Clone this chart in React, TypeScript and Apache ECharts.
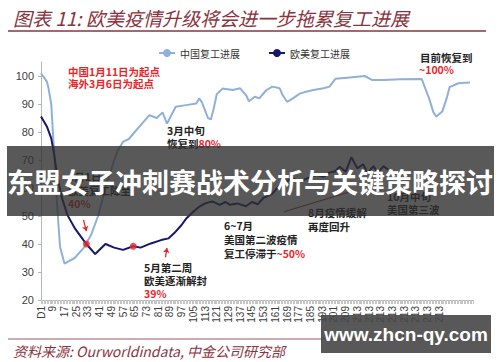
import React, { useEffect, useRef } from 'react';
import * as echarts from 'echarts';

const TITLE = '图表 11: 欧美疫情升级将会进一步拖累复工进展';
const SOURCE = '资料来源: Ourworldindata, 中金公司研究部';
const BANNER = '东盟女子冲刺赛战术分析与关键策略探讨';
const WATERMARK = 'www.zhcn-qy.com';
const SERIES_NAMES = ['中国复工进展', '欧美复工进展'];

const DAY_COUNT = 296;
const LAST_DAY_LABEL = 213;
const LABELED_UNTIL = 279;

// [day index, value]
const chinaPoints: [number, number][] = [
  [0, 101], [4, 98], [5, 96], [7, 90], [9, 72], [11, 54], [13, 39], [16, 33],
  [23, 35], [29, 38.5], [34, 43], [39, 50], [45, 62], [52, 73], [56, 76.5],
  [60, 77.5], [64, 80], [69, 83], [74, 86], [79, 85], [83, 87], [86, 83],
  [92, 89], [99, 89.6], [106, 90.2], [108, 92], [110, 90.5], [114, 85],
  [116, 84.5], [118, 88.5], [120, 93.5], [124, 95.5], [131, 95], [136, 95.6],
  [140, 93.2], [142, 91], [146, 92.6], [149, 92], [154, 95], [158, 96.2],
  [163, 95.6], [165, 93.2], [168, 90.8], [172, 92], [177, 93.8], [181, 94.4],
  [186, 95], [193, 95.6], [197, 96.2], [201, 99], [211, 99.5], [221, 100],
  [226, 98.6], [234, 98.6], [245, 98.8], [260, 98.9], [265, 92], [268, 87],
  [270, 85.5], [274, 87.3], [277, 92], [279, 96], [285, 97.4], [293, 97.7],
];

const westPoints: [number, number][] = [
  [0, 85.5], [4, 82], [7, 77.7], [9, 72], [11, 64.6], [14, 57], [18, 50.4],
  [23, 45.7], [29, 41.4], [31, 40], [37, 36.4], [44, 40], [50, 38.7],
  [56, 37.9], [63, 39.2], [68, 38.7], [75, 40.2], [82, 41.4], [87, 42],
  [91, 43.9], [96, 46.8], [99, 49], [104, 51.5], [108, 53.3], [112, 54.5],
  [117, 55.2], [122, 54], [126, 55], [129, 54], [134, 54.5], [140, 53.5],
  [144, 55], [148, 54.2], [152, 56.5], [158, 58], [163, 61], [168, 62.5],
  [172, 63.5], [177, 62.3], [182, 63.5], [188, 64.6], [193, 64], [197, 65.5],
  [201, 66], [204, 67.6], [208, 65.8], [212, 71], [216, 67], [220, 68.5],
  [223, 65.2], [227, 67.8], [230, 65.5], [234, 67.8], [237, 66.5],
];

const reopenDots: [number, number][] = [[31, 40], [63, 39.2]];
const reboundTrend: [number, number][] = [[166, 51.5], [210, 58.5]];
const arrowSegments: [number, number][][] = [
  [[29, 48.6], [31, 44.6]],
  [[85, 35.2], [86, 38.6]],
];
const Y_TICKS = [20, 30, 40, 50, 60, 70, 80, 90, 100];

const categories = Array.from({ length: DAY_COUNT }, (_, i) =>
  i === 0 ? 'D1' : i < LAST_DAY_LABEL ? String(i + 1) : i <= LABELED_UNTIL ? String(LAST_DAY_LABEL) : ''
);

function fullSeries(points: [number, number][]) {
  const arr: (number | null)[] = new Array(DAY_COUNT).fill(null);
  points.forEach(([i, v]) => {
    arr[i] = v;
  });
  return arr;
}

const CJK = '"Noto Sans CJK SC", "Noto Sans", sans-serif';
const RED = '#e8262a';
const MAROON = '#8a3340';

type Note = { x: number; y: number; text: string; color?: string };
const notes: Note[] = [
  { x: 68, y: 71, text: '中国1月11日为起点', color: RED },
  { x: 68, y: 83, text: '海外3月6日为起点', color: RED },
  { x: 167, y: 130, text: '3月中旬' },
  { x: 167, y: 143, text: '恢复到{r|80%}' },
  { x: 68, y: 176, text: '4月1日' },
  { x: 68, y: 190, text: '欧美复工降至' },
  { x: 68, y: 203, text: '40%', color: RED },
  { x: 144, y: 267, text: '5月第二周' },
  { x: 144, y: 280, text: '欧美逐渐解封' },
  { x: 144, y: 293, text: '39%', color: RED },
  { x: 224, y: 225, text: '6~7月' },
  { x: 224, y: 239, text: '美国第二波疫情' },
  { x: 224, y: 253, text: '复工停滞于{r|~50%}' },
  { x: 308, y: 212, text: '8月疫情缓解' },
  { x: 308, y: 226, text: '再度回升' },
  { x: 387, y: 196, text: '10月中旬' },
  { x: 387, y: 209, text: '美国第三波' },
  { x: 420, y: 57, text: '目前恢复到' },
  { x: 419, y: 69, text: '~100%', color: RED },
];

export default function App() {
  const ref = useRef<HTMLDivElement>(null);

  useEffect(() => {
    if (!ref.current) return;
    const chart = echarts.init(ref.current, undefined, { renderer: 'svg' });

    const noteGraphics = notes.map((n) => ({
      type: 'text',
      x: n.x,
      y: n.y,
      z: 50,
      style: {
        text: n.text,
        fill: n.color || '#222',
        font: `bold 10.5px ${CJK}`,
        textVerticalAlign: 'middle',
        rich: { r: { fill: RED, font: `bold 10.5px ${CJK}` } },
      },
    }));

    chart.setOption({
      animation: false,
      backgroundColor: '#ffffff',
      grid: { left: 41, right: 27, top: 62, bottom: 62, containLabel: false, outerBoundsMode: 'none' },
      legend: {
        data: SERIES_NAMES,
        left: 153,
        top: 43,
        itemWidth: 16,
        itemHeight: 10,
        itemGap: 28,
        textStyle: { fontFamily: CJK, fontSize: 10, color: '#333' },
      },
      xAxis: {
        type: 'category',
        data: categories,
        boundaryGap: false,
        axisLine: { lineStyle: { color: '#b5b5b5', width: 1 } },
        axisTick: { interval: 0, length: 4, lineStyle: { color: '#c4c4c4' } },
        axisLabel: {
          interval: 7,
          rotate: 90,
          margin: 6,
          fontSize: 10,
          color: '#404040',
          fontFamily: '"Liberation Sans", Arial, sans-serif',
        },
        splitLine: { show: false },
      },
      yAxis: {
        type: 'value',
        min: 20,
        max: 105,
        interval: 10,
        axisLine: { show: true, lineStyle: { color: '#b5b5b5' } },
        axisTick: { show: true, length: 3, customValues: Y_TICKS, lineStyle: { color: '#b5b5b5' } },
        axisLabel: {
          customValues: Y_TICKS,
          margin: 7,
          fontSize: 11,
          color: '#404040',
          fontFamily: '"Liberation Sans", Arial, sans-serif',
          formatter: (v: number) => (v > 100 ? '' : String(v)),
        },
        splitLine: { show: false },
      },
      series: [
        {
          name: SERIES_NAMES[0],
          type: 'line',
          data: fullSeries(chinaPoints),
          connectNulls: true,
          symbol: 'none',
          showSymbol: false,
          lineStyle: { color: '#8fb0d8', width: 2 },
          itemStyle: { color: '#8fb0d8' },
          z: 3,
        },
        {
          name: SERIES_NAMES[1],
          type: 'line',
          data: fullSeries(westPoints),
          connectNulls: true,
          symbol: 'none',
          showSymbol: false,
          lineStyle: { color: '#17176b', width: 2 },
          itemStyle: { color: '#17176b' },
          z: 4,
        },
        {
          name: 'trend',
          type: 'line',
          data: reboundTrend,
          symbol: 'none',
          lineStyle: { color: '#a8323a', width: 1.2 },
          z: 3,
        },
        {
          name: 'dots',
          type: 'scatter',
          data: reopenDots,
          symbolSize: 7,
          itemStyle: { color: RED },
          z: 6,
        },
        {
          name: 'arrows',
          type: 'lines',
          coordinateSystem: 'cartesian2d',
          data: arrowSegments.map((c) => ({ coords: c })),
          symbol: ['none', 'arrow'],
          symbolSize: 5,
          lineStyle: { color: RED, width: 1.3, opacity: 1 },
          z: 6,
        },
      ],
      graphic: [
        {
          type: 'text',
          x: 13,
          y: 17,
          style: {
            text: TITLE,
            fill: MAROON,
            font: `italic 19px ${CJK}`,
            textVerticalAlign: 'middle',
          },
        },
        {
          type: 'line',
          shape: { x1: 8, y1: 31, x2: 486, y2: 31 },
          style: { stroke: MAROON, lineWidth: 1.5 },
        },
        {
          type: 'line',
          shape: { x1: 8, y1: 339, x2: 486, y2: 339 },
          style: { stroke: '#a55560', lineWidth: 1.2 },
        },
        {
          type: 'text',
          x: 13,
          y: 351,
          style: {
            text: SOURCE,
            fill: MAROON,
            font: `italic 14px ${CJK}`,
            textVerticalAlign: 'middle',
          },
        },
        ...noteGraphics,
        {
          type: 'rect',
          z: 100,
          shape: { x: 7, y: 146, width: 487, height: 70 },
          style: { fill: 'rgba(48,48,48,0.8)' },
        },
        {
          type: 'text',
          z: 101,
          x: 250,
          y: 181,
          style: {
            text: BANNER,
            fill: '#ffffff',
            font: `bold 27px ${CJK}`,
            textAlign: 'center',
            textVerticalAlign: 'middle',
          },
        },
        {
          type: 'rect',
          z: 100,
          shape: { x: 321, y: 315, width: 170, height: 38 },
          style: { fill: 'rgba(70,70,70,0.9)' },
        },
        {
          type: 'text',
          z: 101,
          x: 406,
          y: 334,
          style: {
            text: WATERMARK,
            fill: '#ffffff',
            font: `bold 19px "Liberation Sans", Arial, sans-serif`,
            textAlign: 'center',
            textVerticalAlign: 'middle',
          },
        },
      ],
    });

    return () => chart.dispose();
  }, []);

  return (
    <div
      ref={ref}
      style={{ position: 'fixed', left: 0, top: 0, width: 500, height: 362, background: '#fff' }}
    />
  );
}
